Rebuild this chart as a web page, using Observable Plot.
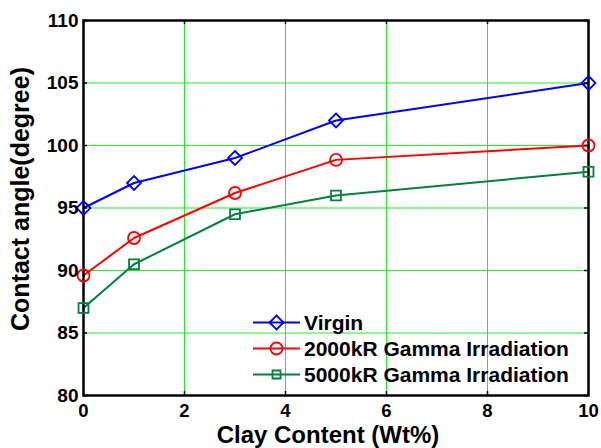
<!DOCTYPE html>
<html>
<head>
<meta charset="utf-8">
<script src="https://cdn.jsdelivr.net/npm/d3@7"></script>
<script src="https://cdn.jsdelivr.net/npm/@observablehq/plot@0.6"></script>
<style>
  html, body { margin: 0; padding: 0; background: #fff; }
  #wrap { position: relative; width: 601px; height: 448px; }
  #legend { position: absolute; left: 0; top: 0; pointer-events: none; }
</style>
</head>
<body>
<div id="wrap"></div>
<script>
// ---- data ----
const clay = [0, 1, 3, 5, 10];
const virgin = [95, 97, 99, 102, 105];
const gamma2000 = [89.6, 92.6, 96.2, 98.85, 100];
const gamma5000 = [87, 90.5, 94.5, 96, 97.9];
const seriesNames = ["Virgin", "2000kR Gamma Irradiation", "5000kR Gamma Irradiation"];
const seriesColors = ["#0000ff", "#ff0000", "#00803f"];
const seriesSymbols = ["diamond2", "circle", "square"];
const seriesR = [6.3, 6, 5.6];
const xTicks = [0, 2, 4, 6, 8, 10];
const yTicks = [80, 85, 90, 95, 100, 105, 110];
const xTitle = "Clay Content (Wt%)";
const yTitle = "Contact angle(degree)";

const allSeries = [virgin, gamma2000, gamma5000];
const rows = [];
allSeries.forEach((vals, si) => vals.forEach((v, i) => rows.push({series: seriesNames[si], x: clay[i], y: v, si})));

const font = "'Liberation Sans', Arial, Helvetica, sans-serif";
const inner = yTicks.filter(d => d !== 80 && d !== 110);
const innerX = xTicks.filter(d => d !== 0 && d !== 10);

const marks = [
  Plot.gridX(innerX, {stroke: "#22ee22", strokeOpacity: 1, strokeWidth: 1}),
  Plot.gridY(inner, {stroke: "#22ee22", strokeOpacity: 1, strokeWidth: 1}),
];
seriesNames.forEach((name, si) => {
  const data = rows.filter(d => d.si === si);
  marks.push(Plot.line(data, {x: "x", y: "y", stroke: seriesColors[si], strokeWidth: 2}));
});
marks.push(
  Plot.frame({stroke: "#000", strokeWidth: 2.5}),
  // inward ticks
  Plot.ruleX(xTicks, {x: d => d, y1: 80, y2: 80.32, stroke: "#000", strokeWidth: 1.5}),
  Plot.ruleX(xTicks, {x: d => d, y1: 110, y2: 109.68, stroke: "#000", strokeWidth: 1.5}),
  Plot.ruleY(yTicks, {y: d => d, x1: 0, x2: 0.08, stroke: "#000", strokeWidth: 1.5}),
  Plot.ruleY(yTicks, {y: d => d, x1: 10, x2: 9.92, stroke: "#000", strokeWidth: 1.5}),
);
seriesNames.forEach((name, si) => {
  const data = rows.filter(d => d.si === si);
  marks.push(Plot.dot(data, {x: "x", y: "y", symbol: () => seriesSymbols[si], r: seriesR[si], stroke: seriesColors[si], strokeWidth: 1.8, fill: "none"}));
});
marks.push(
  Plot.axisX({ticks: xTicks, tickSize: 0, tickPadding: 8, fontSize: 18.5, fontWeight: "bold", label: null, tickFormat: d => String(d)}),
  Plot.axisY({ticks: yTicks, tickSize: 0, tickPadding: 5, fontSize: 19, fontWeight: "bold", label: null, tickFormat: d => String(d)}),
  Plot.text([xTitle], {frameAnchor: "bottom", textAnchor: "middle", lineAnchor: "middle", dy: 40, dx: -8, fontSize: 24, fontWeight: "bold", fill: "#000", text: d => d, letterSpacing: 0.6}),
  Plot.text([yTitle], {frameAnchor: "left", textAnchor: "middle", lineAnchor: "middle", dx: -63, dy: -9, rotate: -90, fontSize: 25, fontWeight: "bold", fill: "#000", text: d => d})
);

const chart = Plot.plot({
  width: 601,
  height: 448,
  marginLeft: 83,
  marginRight: 13,
  marginTop: 20,
  marginBottom: 53,
  style: {fontFamily: font, background: "#fff", color: "#000"},
  x: {domain: [0, 10]},
  y: {domain: [80, 110]},
  symbol: {type: "identity"},
  marks
});
document.getElementById("wrap").appendChild(chart);

// ---- legend (overlay, no box) ----
const leg = d3.select("#wrap").append("svg")
  .attr("id", "legend").attr("width", 601).attr("height", 448);
const legY = [322.5, 348.5, 374.5];
seriesNames.forEach((name, si) => {
  const g = leg.append("g").attr("transform", `translate(0,${legY[si]})`);
  g.append("line").attr("x1", 253).attr("x2", 300).attr("y1", 0).attr("y2", 0)
    .attr("stroke", seriesColors[si]).attr("stroke-width", 2);
  const sym = {diamond2: d3.symbolDiamond2, circle: d3.symbolCircle, square: d3.symbolSquare}[seriesSymbols[si]];
  const size = si === 0 ? 125 : si === 1 ? 113 : 64;
  g.append("path").attr("d", d3.symbol(sym, size)()).attr("transform", "translate(276.5,0)")
    .attr("fill", "none").attr("stroke", seriesColors[si]).attr("stroke-width", 1.8);
  g.append("text").attr("x", 304).attr("y", 0).attr("dy", "0.36em")
    .attr("font-family", font).attr("font-weight", "bold").attr("font-size", 21)
    .attr("fill", "#000").text(name);
});
</script>
</body>
</html>
